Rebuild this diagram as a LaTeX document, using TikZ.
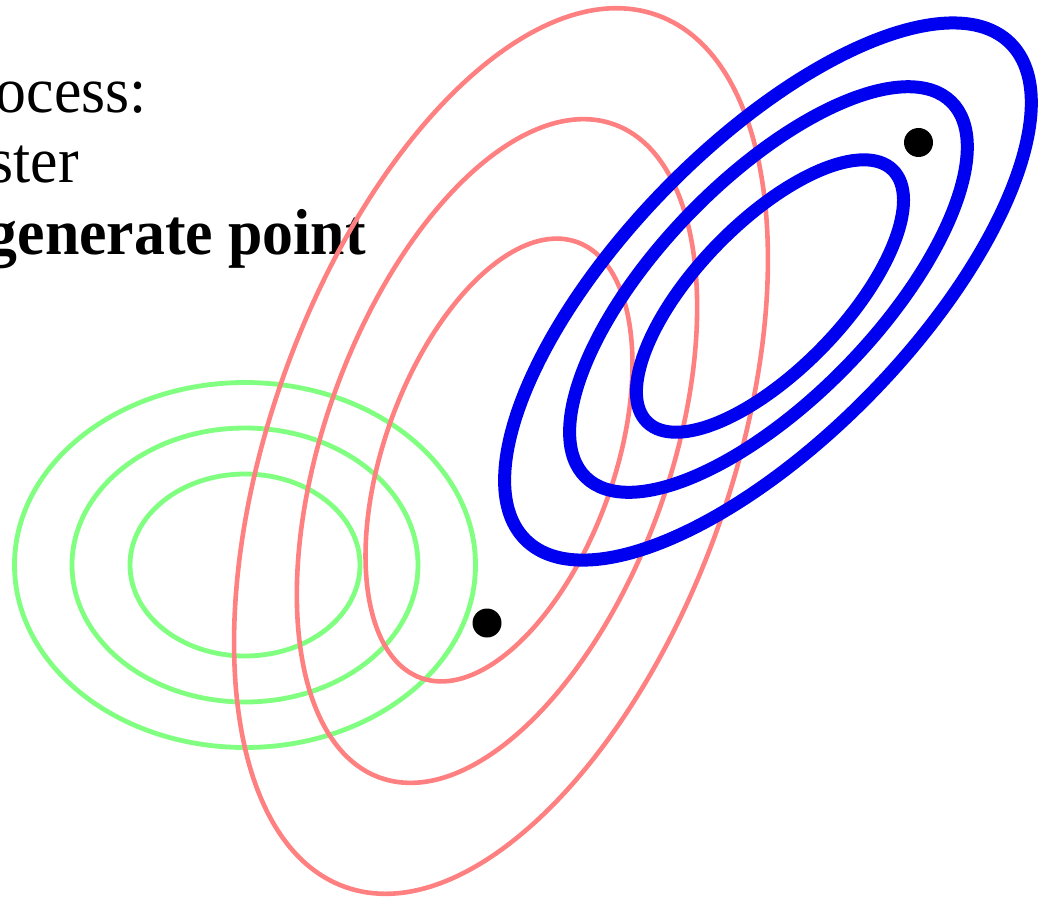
\documentclass[tikz,border=0pt]{standalone}
\usepackage{fontspec}
\setmainfont{Liberation Serif}
\begin{document}
\begin{tikzpicture}[x=1pt,y=-1pt,
  lbl/.style={inner sep=0pt,font=\fontsize{65}{78}\selectfont,xscale=0.95,transform shape},
  gcont/.style={draw={rgb,255:red,128;green,255;blue,128},line width=4.8pt},
  rcont/.style={draw={rgb,255:red,255;green,128;blue,128},line width=4.6pt},
  bcont/.style={draw={rgb,255:red,0;green,0;blue,240},line width=13pt},
  dot/.style={circle,fill=black,inner sep=0pt,minimum size=29pt}]
\useasboundingbox (0,0) rectangle (1040,901);
\clip (0,0) rectangle (1040,901);
\node[lbl,anchor=base east] (t1) at (147,113) {ocess:};
\node[lbl,anchor=base east] (t2) at (79,183) {ster};
\node[lbl,anchor=base east,font=\fontsize{65}{78}\selectfont\bfseries] (t3) at (366,254) {generate point};
% green
\coordinate (gc) at (245,565);
\draw[gcont] (gc) ellipse [x radius=230.5, y radius=182.5];
\draw[gcont] (gc) ellipse [x radius=173, y radius=137];
\draw[gcont] (gc) ellipse [x radius=115, y radius=91];
% red
\coordinate (rc1) at (501,451);
\coordinate (rc2) at (497,451);
\coordinate (rc3) at (499,460);
\draw[rcont, rotate around={70.3:(rc1)}] (rc1) ellipse [x radius=463, y radius=230];
\draw[rcont, rotate around={70.3:(rc2)}] (rc2) ellipse [x radius=347, y radius=172.5];
\draw[rcont, rotate around={70.3:(rc3)}] (rc3) ellipse [x radius=231.5, y radius=115];
% blue
\coordinate (bc1) at (768,291.5);
\coordinate (bc2) at (768.5,289.5);
\coordinate (bc3) at (770,296);
\draw[bcont, rotate around={45.8:(bc1)}] (bc1) ellipse [x radius=347, y radius=145];
\draw[bcont, rotate around={45.8:(bc2)}] (bc2) ellipse [x radius=262, y radius=109.5];
\draw[bcont, rotate around={45.8:(bc3)}] (bc3) ellipse [x radius=176, y radius=73.5];
% points
\node[dot] (p1) at (487,623) {};
\node[dot] (p2) at (918.5,142.5) {};
\end{tikzpicture}
\end{document}
